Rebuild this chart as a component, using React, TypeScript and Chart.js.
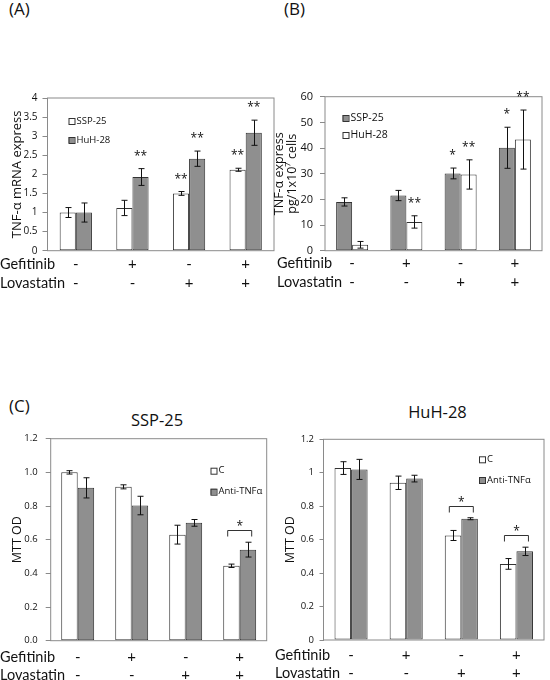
import React, { useEffect, useRef } from "react";
import { Chart, registerables } from "chart.js";
Chart.register(...registerables);
Chart.defaults.font.family = "'Open Sans', sans-serif";
Chart.defaults.color = "#111";

// ---------- data ----------
const gefitinibRow = ["-", "+", "-", "+"];
const lovastatinRow = ["-", "-", "+", "+"];
const rowNames = ["Gefitinib", "Lovastatin"];

// Panel A: TNF-α mRNA
const aNames = ["SSP-25", "HuH-28"];
const aSsp = [1.0, 1.12, 1.5, 2.12];
const aSspErr = [0.13, 0.2, 0.05, 0.04];
const aSspStars = ["", "", "**", "**"];
const aHuh = [1.0, 1.93, 2.41, 3.09];
const aHuhErr = [0.25, 0.22, 0.2, 0.33];
const aHuhStars = ["", "**", "**", "**"];
const aYTitle = "TNF-α mRNA express";

// Panel B: TNF-α protein
const bNames = ["SSP-25", "HuH-28"];
const bSsp = [19.0, 21.5, 30.1, 40.1];
const bSspErr = [1.6, 2.0, 2.1, 8.0];
const bSspStars = ["", "", "*", "*"];
const bHuh = [2.3, 11.2, 29.7, 43.3];
const bHuhErr = [1.3, 2.4, 5.7, 11.5];
const bHuhStars = ["", "**", "**", "**"];
const bYTitle = ["TNF-α express", "pg/1x10⁷ cells"];

// Panel C: MTT
const cNames = ["C", "Anti-TNFα"];
const cYTitle = "MTT OD";
const cSspTitle = "SSP-25";
const cSspCtrl = [1.0, 0.914, 0.63, 0.445];
const cSspCtrlErr = [0.01, 0.012, 0.056, 0.01];
const cSspAnti = [0.908, 0.803, 0.7, 0.541];
const cSspAntiErr = [0.06, 0.055, 0.02, 0.044];
const cSspSig = [false, false, false, true];
const cHuhTitle = "HuH-28";
const cHuhCtrl = [1.028, 0.94, 0.625, 0.455];
const cHuhCtrlErr = [0.038, 0.04, 0.03, 0.032];
const cHuhAnti = [1.02, 0.965, 0.725, 0.53];
const cHuhAntiErr = [0.06, 0.02, 0.006, 0.025];
const cHuhSig = [false, false, true, true];

// ---------- styles ----------
const WHITE = "#ffffff";
const GREY = "#8f8f8f";
const EDGE = "#333333";
const AXIS = "#8a8a8a";
const ROW_FONT = "14.5px Lato";

type Series = { name: string; values: number[]; errors: number[]; stars?: string[]; color: string };
type Spec = {
  id: string;
  box: { x: number; y: number; w: number; h: number };
  plot: { l: number; r: number; t: number; b: number };
  series: Series[];
  yMax: number;
  yStep: number;
  yFixed?: number;
  tickSize: number;
  tickLen: number;
  tickPad: number;
  yTitle: string | string[];
  yTitleSize: number;
  yTitleLH: number;
  yTitleX: number;
  xLH: number;
  xRowY: number;
  rowX: number;
  legendX: number;
  legendYs: number[];
  legendSize: number;
  catPct: number;
  sig?: boolean[];
};

const specs: Spec[] = [
  {
    id: "A",
    box: { x: 0, y: 80, w: 275, h: 215 },
    plot: { l: 47.5, r: 274, t: 98, b: 250.7 },
    series: [
      { name: aNames[0], values: aSsp, errors: aSspErr, stars: aSspStars, color: WHITE },
      { name: aNames[1], values: aHuh, errors: aHuhErr, stars: aHuhStars, color: GREY },
    ],
    yMax: 4, yStep: 0.5, tickSize: 10, tickLen: 5, tickPad: 5,
    yTitle: aYTitle, yTitleSize: 13, yTitleLH: 15, yTitleX: 17,
    xLH: 19, xRowY: 264, rowX: 0,
    legendX: 68.5, legendYs: [121, 140], legendSize: 9.5,
    catPct: 0.57,
  },
  {
    id: "B",
    box: { x: 270, y: 80, w: 280, h: 215 },
    plot: { l: 325, r: 542, t: 96.7, b: 250.7 },
    series: [
      { name: bNames[0], values: bSsp, errors: bSspErr, stars: bSspStars, color: GREY },
      { name: bNames[1], values: bHuh, errors: bHuhErr, stars: bHuhStars, color: WHITE },
    ],
    yMax: 60, yStep: 10, tickSize: 11, tickLen: 5, tickPad: 7,
    yTitle: bYTitle, yTitleSize: 12.5, yTitleLH: 13.5, yTitleX: 279,
    xLH: 19, xRowY: 263, rowX: 277,
    legendX: 342.5, legendYs: [118, 135], legendSize: 10.5,
    catPct: 0.59,
  },
  {
    id: "C1",
    box: { x: 0, y: 425, w: 275, h: 255 },
    plot: { l: 50.7, r: 266.7, t: 436.7, b: 640.7 },
    series: [
      { name: cNames[0], values: cSspCtrl, errors: cSspCtrlErr, color: WHITE },
      { name: cNames[1], values: cSspAnti, errors: cSspAntiErr, color: GREY },
    ],
    yMax: 1.2, yStep: 0.2, yFixed: 1, tickSize: 9.5, tickLen: 5, tickPad: 8,
    yTitle: cYTitle, yTitleSize: 12.5, yTitleLH: 14, yTitleX: 17,
    xLH: 18, xRowY: 657, rowX: 0,
    legendX: 210.5, legendYs: [470.7, 491.7], legendSize: 9.5,
    catPct: 0.61, sig: cSspSig,
  },
  {
    id: "C2",
    box: { x: 275, y: 425, w: 275, h: 255 },
    plot: { l: 323.5, r: 544, t: 439.3, b: 640 },
    series: [
      { name: cNames[0], values: cHuhCtrl, errors: cHuhCtrlErr, color: WHITE },
      { name: cNames[1], values: cHuhAnti, errors: cHuhAntiErr, color: GREY },
    ],
    yMax: 1.2, yStep: 0.2, tickSize: 9.5, tickLen: 4, tickPad: 5.5,
    yTitle: cYTitle, yTitleSize: 12.5, yTitleLH: 14, yTitleX: 290.3,
    xLH: 18, xRowY: 655, rowX: 275,
    legendX: 479, legendYs: [459.3, 480], legendSize: 9.5,
    catPct: 0.6, sig: cHuhSig,
  },
];

function drawStar(ctx: CanvasRenderingContext2D, text: string, x: number, cy: number) {
  ctx.font = "12px 'Open Sans'";
  ctx.textAlign = "center";
  ctx.textBaseline = "alphabetic";
  ctx.fillStyle = "#111";
  ctx.fillText(text, x, cy + 7);
}

function Panel({ s }: { s: Spec }) {
  const ref = useRef<HTMLCanvasElement>(null);
  useEffect(() => {
    const canvas = ref.current!;
    const yWidth = s.plot.l - s.box.x;
    const xHeight = s.box.y + s.box.h - s.plot.b;
    const xPad = s.xRowY - s.plot.b - s.xLH / 2;
    const titlePad = s.yTitleX - s.box.x - s.yTitleLH / 2;
    const labels = gefitinibRow.map((g, i) => [g, lovastatinRow[i]]);

    const decor = {
      id: "decor" + s.id,
      afterDatasetsDraw(chart: any) {
        const ctx: CanvasRenderingContext2D = chart.ctx;
        const area = chart.chartArea;
        const xs = chart.scales.x;
        const ys = chart.scales.y;
        ctx.save();
        // plot border
        ctx.strokeStyle = AXIS;
        ctx.lineWidth = 1;
        ctx.strokeRect(area.left, area.top, area.right - area.left, area.bottom - area.top);
        // error bars and stars
        s.series.forEach((ser, d) => {
          const meta = chart.getDatasetMeta(d);
          meta.data.forEach((bar: any, i: number) => {
            const x = Math.round(bar.x) + 0.5;
            const yHi = ys.getPixelForValue(ser.values[i] + ser.errors[i]);
            const yLo = ys.getPixelForValue(ser.values[i] - ser.errors[i]);
            ctx.strokeStyle = "#111";
            ctx.lineWidth = 1;
            ctx.beginPath();
            ctx.moveTo(x, yHi);
            ctx.lineTo(x, yLo);
            ctx.moveTo(x - 3, yHi);
            ctx.lineTo(x + 3, yHi);
            ctx.moveTo(x - 3, yLo);
            ctx.lineTo(x + 3, yLo);
            ctx.stroke();
            const st = ser.stars ? ser.stars[i] : "";
            if (st) drawStar(ctx, st, bar.x, yHi - 16);
          });
        });
        // significance brackets
        if (s.sig) {
          s.sig.forEach((on, i) => {
            if (!on) return;
            const cx = xs.getPixelForValue(i);
            let top = Infinity;
            s.series.forEach((ser) => {
              top = Math.min(top, ys.getPixelForValue(ser.values[i] + ser.errors[i]));
            });
            const by = Math.round(top - 12) + 0.5;
            ctx.strokeStyle = "#333";
            ctx.beginPath();
            ctx.moveTo(cx - 12, by + 6);
            ctx.lineTo(cx - 12, by);
            ctx.lineTo(cx + 12, by);
            ctx.lineTo(cx + 12, by + 6);
            ctx.stroke();
            drawStar(ctx, "*", cx, by - 8);
          });
        }
        // legend
        s.series.forEach((ser, d) => {
          const lx = s.legendX - s.box.x;
          const ly = s.legendYs[d] - s.box.y;
          ctx.fillStyle = ser.color;
          ctx.fillRect(lx, ly - 3, 6, 6);
          ctx.strokeStyle = EDGE;
          ctx.strokeRect(lx + 0.5, ly - 2.5, 6, 6);
          ctx.fillStyle = "#111";
          ctx.font = `${s.legendSize}px 'Open Sans'`;
          ctx.textAlign = "left";
          ctx.textBaseline = "middle";
          ctx.fillText(ser.name, lx + 8, ly);
        });
        // row names
        ctx.font = ROW_FONT;
        ctx.textAlign = "left";
        ctx.textBaseline = "middle";
        ctx.fillStyle = "#111";
        rowNames.forEach((name, k) => {
          ctx.fillText(name, s.rowX - s.box.x, xs.top + xPad + s.xLH / 2 + k * s.xLH);
        });
        ctx.restore();
      },
    };

    const chart = new Chart(canvas, {
      type: "bar",
      data: {
        labels,
        datasets: s.series.map((ser) => ({
          label: ser.name,
          data: ser.values,
          backgroundColor: ser.color,
          borderColor: EDGE,
          borderWidth: 1,
          borderSkipped: false,
          categoryPercentage: s.catPct,
          barPercentage: 1,
        })),
      },
      options: {
        responsive: false,
        maintainAspectRatio: false,
        animation: false,
        layout: {
          padding: { left: 0, top: s.plot.t - s.box.y, right: s.box.x + s.box.w - s.plot.r, bottom: 0 },
        },
        plugins: { legend: { display: false }, tooltip: { enabled: false }, title: { display: false } },
        scales: {
          x: {
            grid: { display: false, drawTicks: false, tickLength: 0 },
            border: { display: false },
            ticks: {
              autoSkip: false,
              maxRotation: 0,
              minRotation: 0,
              padding: xPad,
              color: "#111",
              font: { family: "Lato", size: 15, lineHeight: `${s.xLH}px` },
            },
            afterFit: (sc: any) => {
              sc.height = xHeight;
            },
          },
          y: {
            min: 0,
            max: s.yMax,
            grid: { display: true, drawOnChartArea: false, drawTicks: true, tickLength: s.tickLen, color: AXIS },
            border: { display: false },
            ticks: {
              stepSize: s.yStep,
              padding: s.tickPad,
              color: "#111",
              font: { size: s.tickSize },
              callback: (v: any) => (s.yFixed !== undefined ? Number(v).toFixed(s.yFixed) : String(Math.round(Number(v) * 100) / 100)),
            },
            title: {
              display: true,
              text: s.yTitle,
              color: "#111",
              padding: { top: titlePad, bottom: 0 },
              font: { size: s.yTitleSize, lineHeight: `${s.yTitleLH}px` },
            },
            afterFit: (sc: any) => {
              sc.width = yWidth;
            },
          },
        },
      } as any,
      plugins: [decor],
    });
    return () => chart.destroy();
  }, [s]);
  return (
    <canvas
      ref={ref}
      width={s.box.w}
      height={s.box.h}
      style={{ position: "absolute", left: s.box.x, top: s.box.y, width: s.box.w, height: s.box.h }}
    />
  );
}

function Label({ text, x, cy, size, center }: { text: string; x: number; cy: number; size: number; center?: boolean }) {
  const h = size * 1.4;
  return (
    <div
      style={{
        position: "absolute",
        left: center ? x - 60 : x,
        width: center ? 120 : undefined,
        textAlign: center ? "center" : "left",
        top: cy - h / 2,
        height: h,
        lineHeight: `${h}px`,
        fontSize: size,
        fontFamily: "'Open Sans', sans-serif",
        color: "#111",
        whiteSpace: "nowrap",
      }}
    >
      {text}
    </div>
  );
}

export default function App() {
  return (
    <div style={{ position: "absolute", left: 0, top: 0, width: 550, height: 680, background: "#fff", overflow: "hidden" }}>
      <Label text="(A)" x={9} cy={9} size={17} />
      <Label text="(B)" x={284} cy={9} size={17} />
      <Label text="(C)" x={9} cy={406} size={17} />
      <Label text={cSspTitle} x={157} cy={420} size={16.5} center />
      <Label text={cHuhTitle} x={437.5} cy={411.5} size={16.5} center />
      {specs.map((s) => (
        <Panel key={s.id} s={s} />
      ))}
    </div>
  );
}
